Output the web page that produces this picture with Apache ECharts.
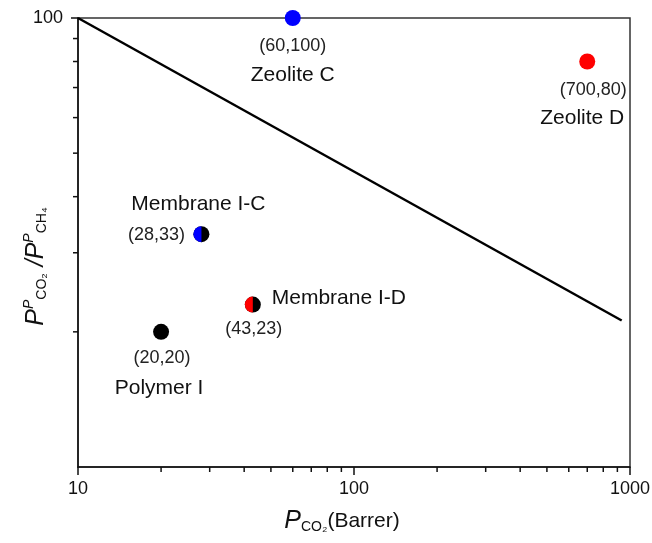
<!DOCTYPE html>
<html>
<head>
<meta charset="utf-8">
<script src="https://cdn.jsdelivr.net/npm/echarts@6/dist/echarts.min.js"></script>
<style>
html,body{margin:0;padding:0;background:#fff;}
#chart{width:652px;height:543px;}
</style>
</head>
<body>
<div id="chart"></div>
<script>
// ---- data ----
const names = ['Polymer I', 'Membrane I-C', 'Membrane I-D', 'Zeolite C', 'Zeolite D'];
const xVals = [20, 28, 43, 60, 700];          // P_CO2 (Barrer)
const yVals = [20, 33, 23, 100, 80];          // selectivity
const coordLabels = ['(20,20)', '(28,33)', '(43,23)', '(60,100)', '(700,80)'];
const fillColors = ['#000000', '#000000', '#000000', '#0000ff', '#ff0000'];
const halfColors = [null, '#0000ff', '#ff0000', null, null];
const boundX = [10, 933];
const boundY = [100, 21.2];
const xTickLabels = [10, 100, 1000];
const yTickLabels = [100];
const xMinor = [20, 30, 40, 50, 60, 70, 80, 90, 200, 300, 400, 500, 600, 700, 800, 900];
const yMinor = [20, 30, 40, 50, 60, 70, 80, 90];

// ---- layout (label offsets relative to point centre) ----
const coordOffset = {
  'Polymer I': [1, 26], 'Membrane I-C': [-45, 1], 'Membrane I-D': [1, 24],
  'Zeolite C': [0, 28], 'Zeolite D': [6, 29]
};
const nameOffset = {
  'Polymer I': [-2, 56], 'Membrane I-C': [-3, -30], 'Membrane I-D': [86, -6],
  'Zeolite C': [0, 57], 'Zeolite D': [-5, 57]
};

const FONT = '"Liberation Sans", Arial, sans-serif';
const INK = '#111';

const baseData = names.map((n, i) => ({
  name: n, value: [xVals[i], yVals[i]],
  itemStyle: { color: fillColors[i], opacity: 1 },
  label: { offset: coordOffset[n], formatter: coordLabels[i] }
}));
const nameData = names.map((n, i) => ({
  name: n, value: [xVals[i], yVals[i]],
  label: { offset: nameOffset[n], formatter: n }
}));
const halfData = [];
names.forEach((n, i) => {
  if (halfColors[i]) halfData.push({ name: n, value: [xVals[i], yVals[i]], itemStyle: { color: halfColors[i], opacity: 1 } });
});

const chart = echarts.init(document.getElementById('chart'), null, { renderer: 'canvas' });

const option = {
  animation: false,
  backgroundColor: '#fff',
  grid: { left: 78, right: 22, top: 18, bottom: 76, show: true, borderColor: '#333', borderWidth: 1.5,
    backgroundColor: 'transparent', containLabel: false, outerBoundsMode: 'none' },
  xAxis: {
    type: 'log', logBase: 10, min: 10, max: 1000,
    axisLine: { show: true, onZero: false, lineStyle: { color: INK, width: 1.5 } },
    axisTick: { show: true, inside: false, length: 8, lineStyle: { color: INK, width: 1.5 } },
    axisLabel: { color: INK, fontSize: 18, fontFamily: FONT, margin: 13,
      formatter: v => (xTickLabels.indexOf(Math.round(v)) >= 0 ? String(Math.round(v)) : '') },
    splitLine: { show: false },
    name: '{p|P}{sub|CO₂}{t|(Barrer)}',
    nameLocation: 'middle', nameGap: 41, nameMoveOverlap: false,
    nameTextStyle: {
      color: INK, fontFamily: FONT, padding: [0, 24, 0, 0],
      rich: {
        p: { fontSize: 25, fontStyle: 'italic', fontFamily: FONT, color: INK },
        sub: { fontSize: 14, fontFamily: FONT, color: INK, padding: [12, 0, 0, 0] },
        t: { fontSize: 21, fontFamily: FONT, color: INK }
      }
    }
  },
  yAxis: {
    type: 'log', logBase: 10, min: 10, max: 100,
    axisLine: { show: true, onZero: false, lineStyle: { color: INK, width: 1.5 } },
    axisTick: { show: true, inside: false, length: 7, lineStyle: { color: INK, width: 1.5 } },
    axisLabel: { color: INK, fontSize: 18, fontFamily: FONT, margin: 15, showMinLabel: false,
      formatter: v => (yTickLabels.indexOf(Math.round(v)) >= 0 ? String(Math.round(v)) : '') },
    splitLine: { show: false },
    name: '{p|P}{sup|P}{sub|CO₂}{p| /P}{sup|P}{sub|CH₄}',
    nameLocation: 'middle', nameRotate: 90, nameGap: 28, nameMoveOverlap: false,
    nameTextStyle: {
      color: INK, fontFamily: FONT, padding: [0, 48, 0, 0],
      rich: {
        p: { fontSize: 25, fontStyle: 'italic', fontFamily: FONT, color: INK },
        sup: { fontSize: 14, fontStyle: 'italic', fontFamily: FONT, color: INK, padding: [0, 0, 14, 0] },
        sub: { fontSize: 14, fontFamily: FONT, color: INK, padding: [12, 0, 0, 0] }
      }
    }
  },
  series: [
    {
      type: 'line', data: boundX.map((x, i) => [x, boundY[i]]),
      showSymbol: false, symbol: 'none', lineStyle: { color: '#000', width: 2.5 }, z: 2, silent: true
    },
    {
      type: 'custom', silent: true, z: 3, clip: false,
      data: xMinor.map(v => [v, 10]),
      renderItem: (params, api) => {
        const p = api.coord([api.value(0), api.value(1)]);
        return { type: 'line', shape: { x1: p[0], y1: p[1], x2: p[0], y2: p[1] + 5 }, style: { stroke: INK, lineWidth: 1.5 } };
      }
    },
    {
      type: 'custom', silent: true, z: 3, clip: false,
      data: yMinor.map(v => [10, v]),
      renderItem: (params, api) => {
        const p = api.coord([api.value(0), api.value(1)]);
        return { type: 'line', shape: { x1: p[0] - 5, y1: p[1], x2: p[0], y2: p[1] }, style: { stroke: INK, lineWidth: 1.5 } };
      }
    },
    {
      type: 'scatter', data: baseData, symbol: 'circle', symbolSize: 16, z: 4, silent: true,
      itemStyle: { opacity: 1 },
      label: { show: true, position: 'inside', align: 'center', verticalAlign: 'middle', color: '#222', fontSize: 18, fontFamily: FONT }
    },
    {
      type: 'scatter', data: halfData, z: 5, silent: true, itemStyle: { opacity: 1 },
      symbol: 'path://M10,0 A10,10 0 0,0 10,20 Z', symbolSize: [8, 16], symbolOffset: [-4, 0]
    },
    {
      type: 'scatter', data: nameData, symbolSize: 0, silent: true, itemStyle: { color: '#000', opacity: 1 }, z: 6,
      label: { show: true, position: 'inside', align: 'center', verticalAlign: 'middle', color: INK, fontSize: 21, fontFamily: FONT }
    }
  ]
};
chart.setOption(option);
</script>
</body>
</html>
